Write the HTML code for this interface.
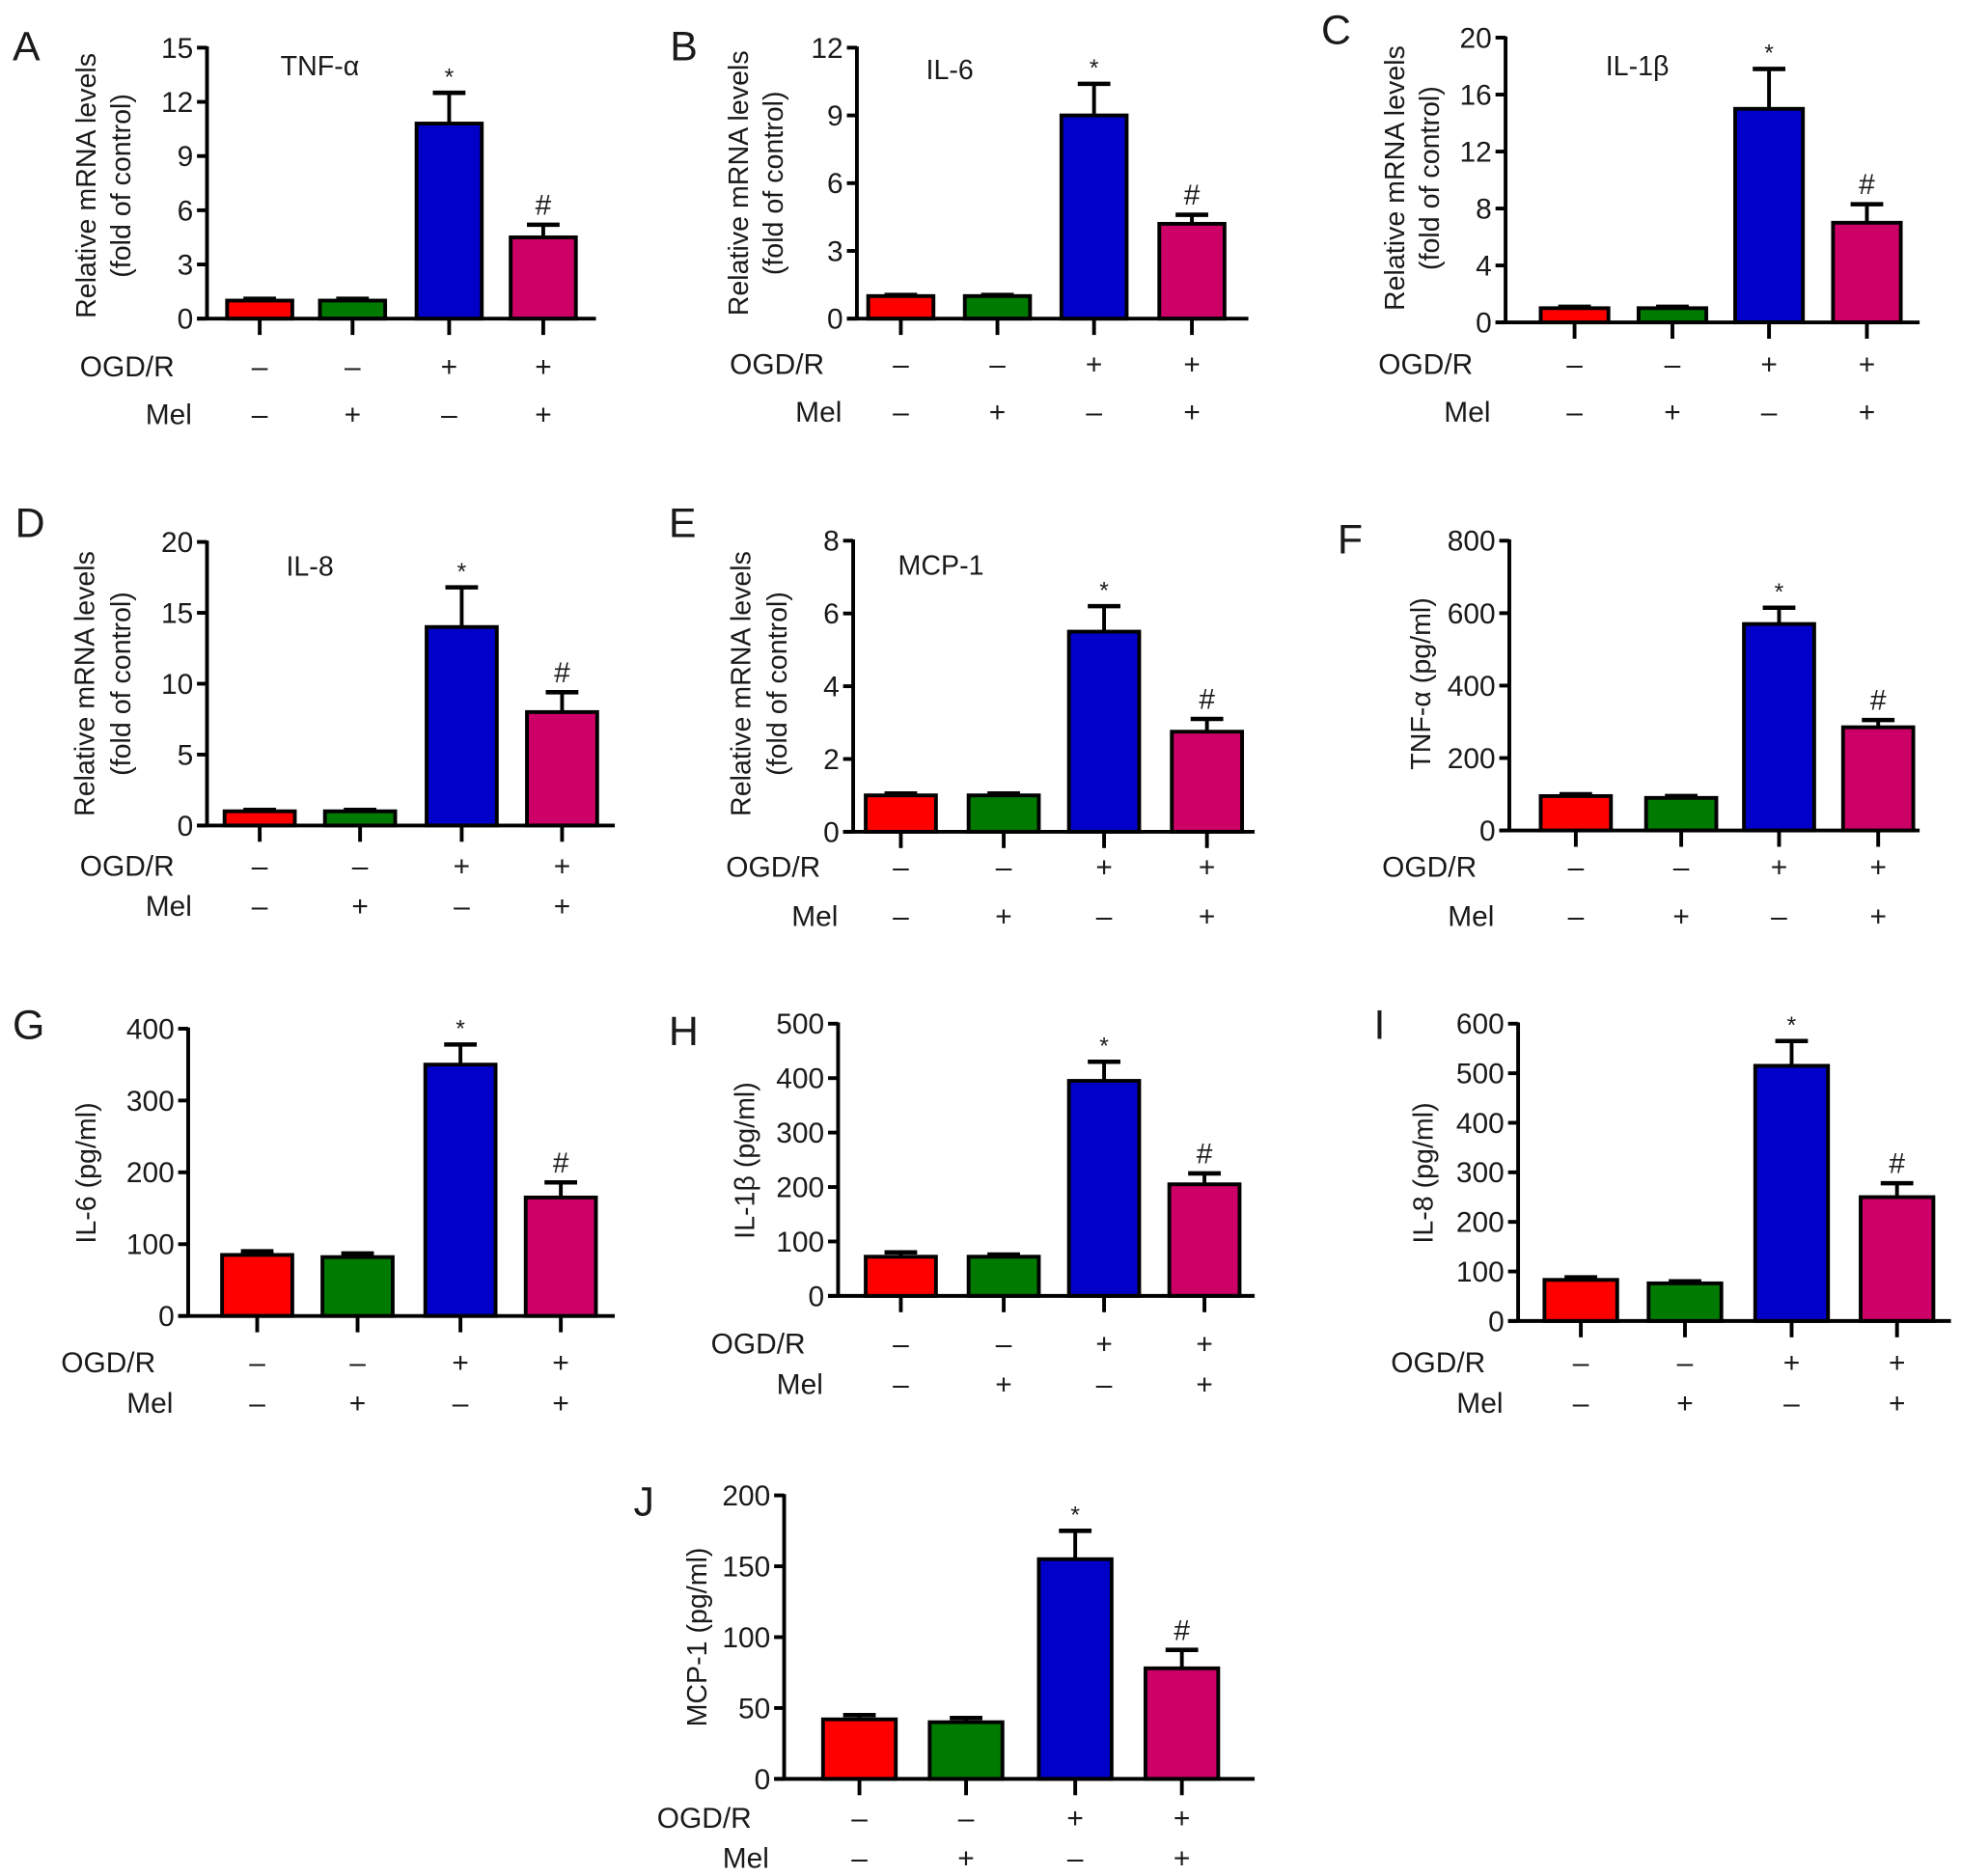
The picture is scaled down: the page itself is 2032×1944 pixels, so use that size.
<!DOCTYPE html>
<html><head><meta charset="utf-8">
<style>
html,body{margin:0;padding:0;background:#fff;}
svg{display:block;}
text{font-family:"Liberation Sans",Arial,sans-serif;fill:#1a1a1a;}
</style></head>
<body>
<svg id="fig" xmlns="http://www.w3.org/2000/svg" width="2032" height="1944" viewBox="0 0 1563 1495.4" preserveAspectRatio="none"></svg>
<script>
// Data arrays (top level)
const groups = ["Control","Mel","OGD/R","OGD/R+Mel"];
const ogdSigns = ["–","–","+","+"];
const melSigns = ["–","+","–","+"];
const colors = ["#ff0000","#007a00","#0000c8","#cc0066"];
const valsA = [1,1,10.8,4.5];   const errA = [0.1,0.1,1.7,0.7];
const valsB = [1,1,9.0,4.2];    const errB = [0.05,0.05,1.4,0.4];
const valsC = [1,1,15,7];       const errC = [0.1,0.1,2.8,1.3];
const valsD = [1,1,14,8];       const errD = [0.1,0.1,2.8,1.4];
const valsE = [1,1,5.5,2.75];   const errE = [0.05,0.05,0.7,0.35];
const valsF = [95,90,570,285];  const errF = [5,5,45,20];
const valsG = [85,82,350,165];  const errG = [5,5,28,21];
const valsH = [72,72,395,205];  const errH = [8,4,35,20];
const valsI = [83,76,515,250];  const errI = [5,4,50,28];
const valsJ = [42,40,155,78];   const errJ = [3,3,20,13];
const ticksA = [0,3,6,9,12,15];
const ticksB = [0,3,6,9,12];
const ticksC = [0,4,8,12,16,20];
const ticksD = [0,5,10,15,20];
const ticksE = [0,2,4,6,8];
const ticksF = [0,200,400,600,800];
const ticksG = [0,100,200,300,400];
const ticksH = [0,100,200,300,400,500];
const ticksI = [0,100,200,300,400,500,600];
const ticksJ = [0,50,100,150,200];

const panels = [
 {id:"a",letter:"A",lx:10,ly:48,ax:165,top:38,bot:254,right:475,bars:[207,281,358,433],bw:52,vals:valsA,err:errA,ticks:ticksA,
  title:["Relative mRNA levels","(fold of control)"],tx:[76,104],ty:148,note:"TNF-α",nx:255,ny:60,rows:[292,330]},
 {id:"b",letter:"B",lx:534,ly:48,ax:683,top:38,bot:254,right:995,bars:[718,795,872,950],bw:52,vals:valsB,err:errB,ticks:ticksB,
  title:["Relative mRNA levels","(fold of control)"],tx:[596,624],ty:146,note:"IL-6",nx:757,ny:63,rows:[290,328]},
 {id:"c",letter:"C",lx:1053,ly:35,ax:1200,top:30,bot:257,right:1530,bars:[1255,1333,1410,1488],bw:54,vals:valsC,err:errC,ticks:ticksC,
  title:["Relative mRNA levels","(fold of control)"],tx:[1119,1147],ty:142,note:"IL-1β",nx:1305,ny:60,rows:[290,328]},
 {id:"d",letter:"D",lx:12,ly:428,ax:165,top:432,bot:658,right:490,bars:[207,287,368,448],bw:56,vals:valsD,err:errD,ticks:ticksD,
  title:["Relative mRNA levels","(fold of control)"],tx:[75,104],ty:545,note:"IL-8",nx:247,ny:459,rows:[690,722]},
 {id:"e",letter:"E",lx:533,ly:428,ax:680,top:431,bot:663,right:1000,bars:[718,800,880,962],bw:56,vals:valsE,err:errE,ticks:ticksE,
  title:["Relative mRNA levels","(fold of control)"],tx:[598,627],ty:545,note:"MCP-1",nx:750,ny:458,rows:[691,730]},
 {id:"f",letter:"F",lx:1066,ly:441,ax:1203,top:431,bot:662,right:1530,bars:[1256,1340,1418,1497],bw:56,vals:valsF,err:errF,ticks:ticksF,
  title:["TNF-α (pg/ml)"],tx:[1140],ty:545,note:"",rows:[691,730]},
 {id:"g",letter:"G",lx:10,ly:828,ax:150,top:820,bot:1049,right:490,bars:[205,285,367,447],bw:56,vals:valsG,err:errG,ticks:ticksG,
  title:["IL-6 (pg/ml)"],tx:[76],ty:935,note:"",rows:[1086,1118]},
 {id:"h",letter:"H",lx:533,ly:833,ax:668,top:816,bot:1033,right:1000,bars:[718,800,880,960],bw:56,vals:valsH,err:errH,ticks:ticksH,
  title:["IL-1β (pg/ml)"],tx:[601],ty:925,note:"",rows:[1071,1103]},
 {id:"i",letter:"I",lx:1095,ly:828,ax:1210,top:816,bot:1053,right:1555,bars:[1260,1343,1428,1512],bw:58,vals:valsI,err:errI,ticks:ticksI,
  title:["IL-8 (pg/ml)"],tx:[1142],ty:935,note:"",rows:[1086,1118]},
 {id:"j",letter:"J",lx:505,ly:1208,ax:625,top:1192,bot:1418,right:1000,bars:[685,770,857,942],bw:58,vals:valsJ,err:errJ,ticks:ticksJ,
  title:["MCP-1 (pg/ml)"],tx:[563],ty:1305,note:"",rows:[1449,1481]}
];

const NS="http://www.w3.org/2000/svg";
const svg=document.getElementById('fig');
function mk(tag,attrs,parent,txt){const e=document.createElementNS(NS,tag);for(const k in attrs)e.setAttribute(k,attrs[k]);if(txt!==undefined)e.textContent=txt;parent.appendChild(e);return e;}

panels.forEach(p=>{
  const g=mk('g',{},svg);
  
  
  const maxT=p.ticks[p.ticks.length-1];
  const y=v=>p.bot-(v/maxT)*(p.bot-p.top);
  const lt=mk('text',{x:p.lx,y:p.ly,'font-size':33},g,p.letter);
  
  
  p.title.forEach((t,i)=>{
    const tt=mk('text',{x:p.tx[i],y:p.ty,'font-size':22,'text-anchor':'middle',transform:`rotate(-90 ${p.tx[i]} ${p.ty})`},g,t);
    
    
  });
  if(p.note){
    const nt=mk('text',{x:p.nx,y:p.ny,'font-size':22,'text-anchor':'middle'},g,p.note);
    
    
  }
  p.vals.forEach((v,i)=>{
    const cx=p.bars[i], top=y(v), et=y(v+p.err[i]);
    const el=mk('line',{x1:cx,x2:cx,y1:top,y2:et,stroke:'#000','stroke-width':3},g);
    
    
    const cap=mk('line',{x1:cx-13,x2:cx+13,y1:et,y2:et,stroke:'#000','stroke-width':3.5},g);
    
    
    const r=mk('rect',{x:cx-p.bw/2,y:top,width:p.bw,height:p.bot-top,fill:colors[i],stroke:'#000','stroke-width':3},g);
    
    
    if(i===2||i===3){
      const s=mk('text',{x:cx,y:et-(i===2?6:8),'font-size':i===2?19:23,'text-anchor':'middle'},g,i===2?'*':'#');
      
      
    }
    const xt=mk('line',{x1:cx,x2:cx,y1:p.bot,y2:p.bot+13,stroke:'#000','stroke-width':3},g);
    
    
    const o=mk('text',{x:cx,y:p.rows[0]+8,'font-size':23,'text-anchor':'middle'},g,ogdSigns[i]);
    
    
    const m=mk('text',{x:cx,y:p.rows[1]+8,'font-size':23,'text-anchor':'middle'},g,melSigns[i]);
    
    
  });
  const ya=mk('line',{x1:p.ax,x2:p.ax,y1:p.top-1,y2:p.bot,stroke:'#000','stroke-width':3},g);
  
  
  const xa=mk('line',{x1:p.ax-8,x2:p.right,y1:p.bot,y2:p.bot,stroke:'#000','stroke-width':3},g);
  
  
  p.ticks.forEach(t=>{
    const ty=y(t);
    const tl=mk('line',{x1:p.ax-8,x2:p.ax,y1:ty,y2:ty,stroke:'#000','stroke-width':3},g);
    
    
    const tx=mk('text',{x:p.ax-11,y:ty+8,'font-size':23,'text-anchor':'end'},g,String(t));
    
    
  });
  const ol=mk('text',{x:p.ax-26,y:p.rows[0]+8,'font-size':23,'text-anchor':'end'},g,'OGD/R');
  
  
  const ml=mk('text',{x:p.ax-12,y:p.rows[1]+8,'font-size':23,'text-anchor':'end'},g,'Mel');
  
  
});
</script>
</body></html>
